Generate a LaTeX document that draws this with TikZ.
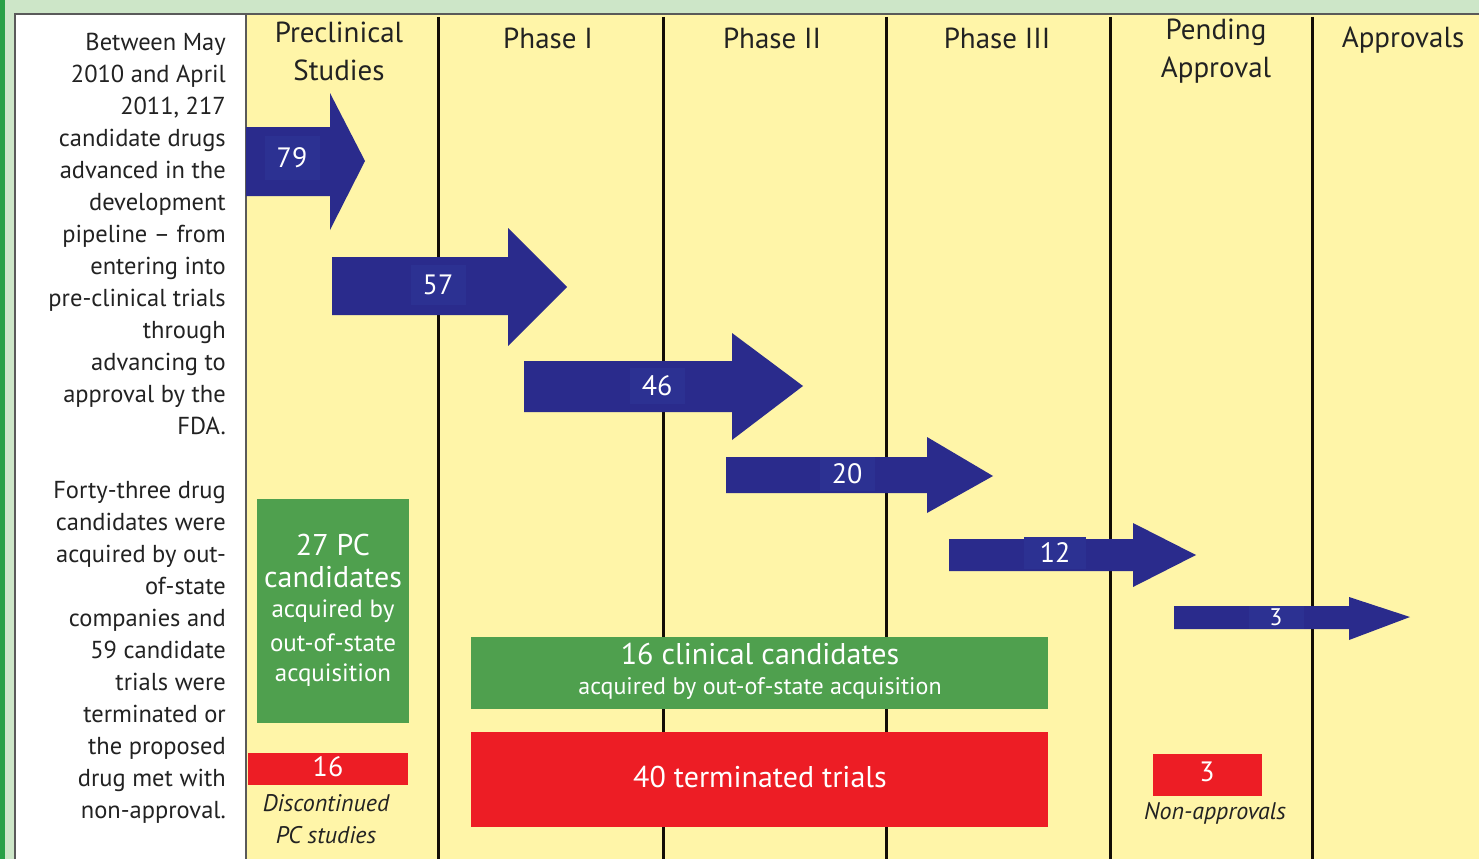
\documentclass[tikz,border=0pt]{standalone}
\usepackage{fontspec}
\setmainfont{PT Sans}
\definecolor{bg}{RGB}{255,245,168}
\definecolor{lightgr}{RGB}{205,230,200}
\definecolor{darkgr}{RGB}{40,160,70}
\definecolor{frame}{RGB}{90,90,90}
\definecolor{arrowblue}{RGB}{42,43,140}
\definecolor{lblblue}{RGB}{44,49,146}
\definecolor{boxgreen}{RGB}{79,160,78}
\definecolor{boxred}{RGB}{237,29,37}
\definecolor{txt}{RGB}{34,34,34}
\newcommand{\fs}[2]{\fontsize{#1}{#2}\selectfont}
\begin{document}
\begin{tikzpicture}[x=1pt,y=-1pt,
  sidetext/.style={anchor=north east, align=right, text=txt, inner sep=0pt, font=\fs{24.5}{32}},
  header/.style={align=center, text=txt, inner sep=0pt, font=\fs{29}{38}},
  blockarrow/.style={fill=arrowblue, draw=none},
  numlbl/.style={fill=lblblue, text=white, inner sep=1pt, minimum width=55pt, font=\fs{28}{30}},
  greenbox/.style={fill=boxgreen, draw=none},
  redbox/.style={fill=boxred, draw=none},
  boxtext/.style={text=white, align=center, inner sep=0pt},
  captext/.style={text=txt, align=center, inner sep=0pt, font=\fs{24}{32}\itshape},
  phaseline/.style={line width=3pt, draw=black!90!brown}
]
\useasboundingbox (0,0) rectangle (1479,859);
% background and frame
\fill[lightgr] (0,0) rectangle (1479,859);
\fill[darkgr] (0,0) rectangle (5,859);
\fill[bg] (15,14) rectangle (1479,859);
\fill[white] (15,14) rectangle (246,859);
\draw[frame, line width=1.5pt] (15,859) -- (15,14) -- (1479,14);
\draw[frame, line width=1.5pt] (246,14) -- (246,859);
% phase separators
\foreach \x in {438,663,886,1110,1312} \draw[phaseline] (\x,17) -- (\x,859);
% headers
\node[header] (hpre) at (339,51) {Preclinical\\Studies};
\node[header] (hp1) at (548,38) {Phase I};
\node[header] (hp2) at (772,38) {Phase II};
\node[header] (hp3) at (997,38) {Phase III};
\node[header] (hpend) at (1216,51) {Pending\\Approval};
\node[header] (happ) at (1403,40) {Approvals};
% left text
\node[sidetext] (intro) at (226,33) {Between May\\2010 and April\\2011, 217\\candidate drugs\\advanced in the\\development\\pipeline -- from\\entering into\\pre-clinical trials\\through\\advancing to\\approval by the\\FDA.};
\node[sidetext] (outro) at (226,481) {Forty-three drug\\candidates were\\acquired by out-\\of-state\\companies and\\59 candidate\\trials were\\terminated or\\the proposed\\drug met with\\non-approval.};
% arrows
\fill[blockarrow] (246,127) -- (330,127) -- (330,93) -- (365,161) -- (330,230) -- (330,196) -- (246,196) -- cycle;
\fill[blockarrow] (332,257) -- (508,257) -- (508,228) -- (567,287) -- (508,346) -- (508,315) -- (332,315) -- cycle;
\fill[blockarrow] (524,361) -- (732,361) -- (732,333) -- (803,386) -- (732,440) -- (732,412) -- (524,412) -- cycle;
\fill[blockarrow] (726,457) -- (927,457) -- (927,437) -- (993,476) -- (927,513) -- (927,493) -- (726,493) -- cycle;
\fill[blockarrow] (949,539) -- (1133,539) -- (1133,523) -- (1196,555) -- (1133,587) -- (1133,571) -- (949,571) -- cycle;
\fill[blockarrow] (1174,606) -- (1349,606) -- (1349,597) -- (1410,617) -- (1349,640) -- (1349,629) -- (1174,629) -- cycle;
\node[numlbl, minimum height=44pt] (n79) at (292,158) {79};
\node[numlbl, minimum height=40pt] (n57) at (438,285) {57};
\node[numlbl, minimum height=36pt] (n46) at (657,386) {46};
\node[numlbl, minimum height=34pt] (n20) at (847,474) {20};
\node[numlbl, minimum width=62pt, minimum height=32pt] (n12) at (1055,553) {12};
\node[numlbl, font=\fs{24}{24}, inner ysep=0pt, minimum height=23pt] (n3) at (1276,617.5) {3};
% preclinical boxes
\fill[greenbox] (257,499) rectangle (409,723);
\node[boxtext, font=\fs{30}{33}] (pcacq1) at (333,545) {27 PC};
\node[boxtext, font=\fs{30}{33}] (pcacq2) at (333,577) {candidates};
\node[boxtext, font=\fs{25}{32}] (pcacq3) at (333,611) {acquired by};
\node[boxtext, font=\fs{25}{32}] (pcacq4) at (333,643) {out-of-state};
\node[boxtext, font=\fs{25}{32}] (pcacq5) at (333,675) {acquisition};
\fill[redbox] (248,753) rectangle (408,785);
\node[boxtext, font=\fs{28}{30}] (pcdisc) at (328,767) {16};
\node[captext] (pccap) at (326,819) {Discontinued\\PC studies};
% clinical boxes
\fill[greenbox] (471,637) rectangle (1048,709);
\node[boxtext, font=\fs{30}{34}] (clacq1) at (760,654) {16 clinical candidates};
\node[boxtext, font=\fs{24}{34}] (clacq2) at (760,688) {acquired by out-of-state acquisition};
\fill[redbox] (471,732) rectangle (1048,827);
\node[boxtext, font=\fs{30}{32}] (clterm) at (760,777) {40 terminated trials};
% pending box
\fill[redbox] (1153,754) rectangle (1262,796);
\node[boxtext, font=\fs{28}{30}] (nonapp) at (1207,772) {3};
\node[captext] (nacap) at (1215,813) {Non-approvals};
\end{tikzpicture}
\end{document}
